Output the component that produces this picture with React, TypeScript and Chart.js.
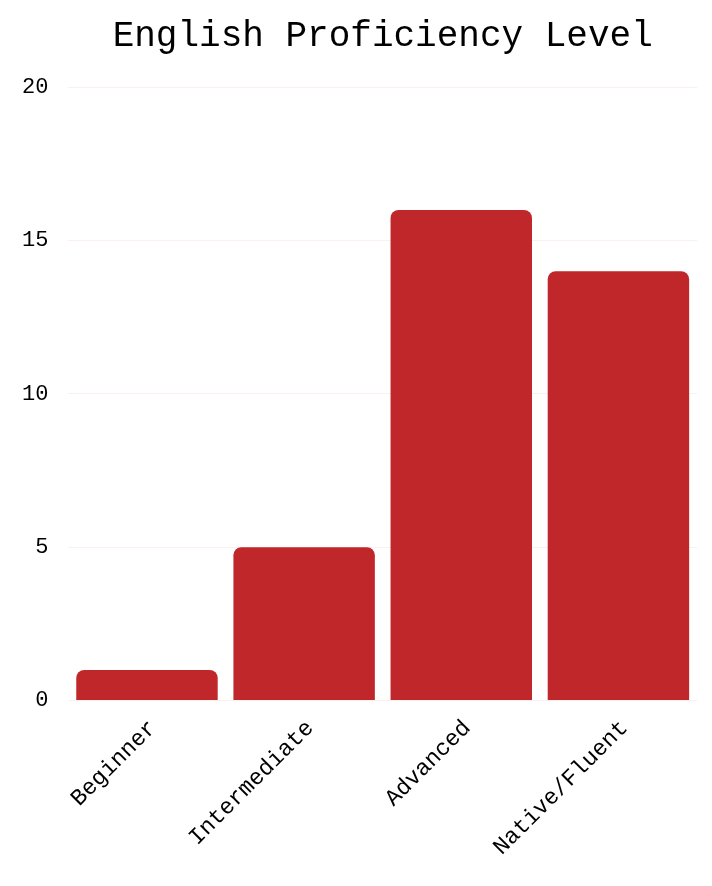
import React, { useEffect, useRef } from "react";
import { Chart, registerables } from "chart.js";

Chart.register(...registerables);

// Chart data
const levels = ["Beginner", "Intermediate", "Advanced", "Native/Fluent"];
const counts = [1, 5, 16, 14];
const yTicks = [0, 5, 10, 15, 20];

const FONT = "'Courier New', Courier, 'Liberation Mono', monospace";
const BAR_RED = "#c0272a";

export default function App() {
  const canvasRef = useRef<HTMLCanvasElement | null>(null);

  useEffect(() => {
    document.body.style.margin = "0";
    const ctx = canvasRef.current?.getContext("2d");
    if (!ctx) return;

    const chart = new Chart(ctx, {
      type: "bar",
      data: {
        labels: levels,
        datasets: [
          {
            data: counts,
            backgroundColor: BAR_RED,
            borderWidth: 0,
            borderRadius: 8,
            borderSkipped: "start",
            barPercentage: 0.9,
            categoryPercentage: 1,
          },
        ],
      },
      options: {
        responsive: true,
        maintainAspectRatio: false,
        animation: false,
        layout: { padding: { left: 2, right: 15, top: 0, bottom: 19 } },
        plugins: {
          legend: { display: false },
          tooltip: { enabled: false },
          title: {
            display: true,
            fullSize: false,
            text: "English Proficiency Level",
            color: "#000",
            font: { family: FONT, size: 36, weight: "normal" },
            padding: { top: 15, bottom: 29 },
          },
        },
        scales: {
          x: {
            grid: { display: false },
            border: { display: false },
            ticks: {
              color: "#000",
              font: { family: FONT, size: 23 },
              maxRotation: 45,
              minRotation: 45,
              padding: 6,
              labelOffset: 6,
            },
          },
          y: {
            min: 0,
            max: 20,
            afterBuildTicks: (scale: any) => {
              scale.ticks = yTicks.map((v) => ({ value: v }));
            },
            grid: { color: "rgba(192,39,42,0.07)", drawTicks: false },
            border: { display: false },
            ticks: {
              color: "#000",
              font: { family: FONT, size: 22 },
              padding: 20,
            },
          },
        },
      },
    });

    return () => {
      chart.destroy();
    };
  }, []);

  return (
    <div style={{ width: 712, height: 886, position: "relative" }}>
      <canvas ref={canvasRef} />
    </div>
  );
}
